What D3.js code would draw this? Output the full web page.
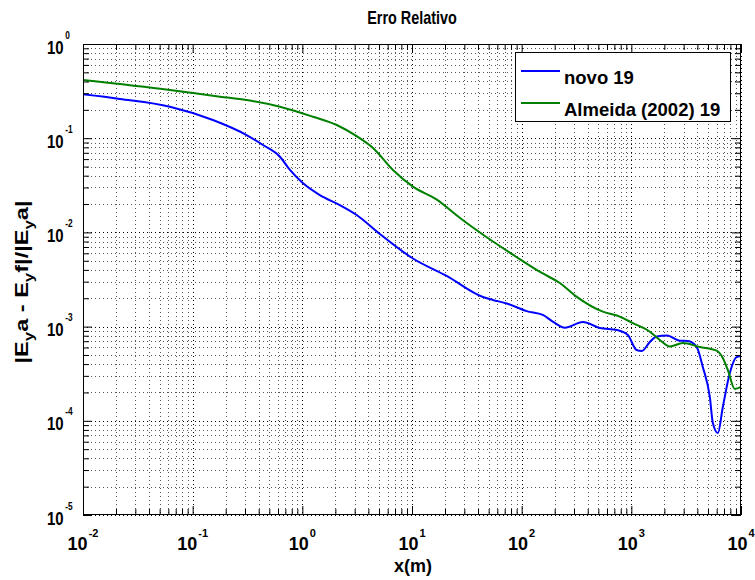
<!DOCTYPE html>
<html>
<head>
<meta charset="utf-8">
<script src="https://cdn.jsdelivr.net/npm/d3@7"></script>
<style>
  body { margin: 0; background: #fff; }
  text { font-family: "Liberation Sans", Arial, Helvetica, sans-serif; font-weight: bold; fill: #000; }
</style>
</head>
<body>
<svg id="chart" width="755" height="580"></svg>
<script>
// Relative error of the two formulations against distance x (m)
const novoX = [0.01, 0.0217, 0.062, 0.153, 0.31, 0.438, 0.625, 0.771, 1.01, 1.445,
  2.2, 3.13, 5.09, 10.2, 20.7, 44.3, 54.6, 73.3, 111, 156,
  192, 248, 361, 516, 738, 929, 1115, 1246, 1475, 1707,
  2107, 2768, 3273, 3928, 4484, 5197, 5537, 6151, 6826, 7907,
  9100, 10000];
const novoY = [0.292, 0.261, 0.216, 0.156, 0.108, 0.0847, 0.0636, 0.046, 0.0334, 0.0249,
  0.0195, 0.0153, 0.00962, 0.00528, 0.00345, 0.00206, 0.00192, 0.00176, 0.00146, 0.00133,
  0.00113, 0.000973, 0.00112, 0.000967, 0.00092, 0.000814, 0.000565, 0.000551, 0.000687, 0.000785,
  0.000805, 0.000708, 0.000703, 0.000612, 0.000373, 0.000179, 0.0000948, 0.0000742, 0.00014, 0.000322,
  0.000475, 0.000488];

const almeidaX = [0.01, 0.062, 0.177, 0.31, 0.625, 1.25, 2.06, 3.13, 4.41, 6.7,
  10.2, 16.7, 27.4, 46.2, 86.8, 147, 223, 316, 550, 738,
  1033, 1475, 1820, 2245, 2951, 4210, 5986, 6826, 7586, 8770,
  10000];
const almeidaY = [0.415, 0.325, 0.276, 0.254, 0.216, 0.169, 0.138, 0.105, 0.0787, 0.046,
  0.0306, 0.0224, 0.0142, 0.00916, 0.00562, 0.0038, 0.0029, 0.00208, 0.00144, 0.00131,
  0.00109, 0.000883, 0.000721, 0.000615, 0.00067, 0.000607, 0.000555, 0.000464, 0.000346, 0.000218,
  0.000229];

const seriesNames = ["novo 19", "Almeida (2002) 19"];
const seriesColors = ["#0000ff", "#008000"];

const xExponents = [-2, -1, 0, 1, 2, 3, 4];
const yExponents = [0, -1, -2, -3, -4, -5];

const titleText = "Erro Relativo";
const xLabelText = "x(m)";

const svg = d3.select("#chart");
const L = 83, R = 741, T = 44, B = 515;

const x = d3.scaleLog().domain([1e-2, 1e4]).range([L, R]);
const y = d3.scaleLog().domain([1e-5, 1]).range([B, T]);

// major and minor tick positions on each log axis
const xMajor = xExponents.map(e => Math.pow(10, e));
const yMajor = yExponents.map(e => Math.pow(10, e));
const minorOf = (majors) => {
  const out = [];
  const sorted = majors.slice().sort((a, b) => a - b);
  for (let i = 0; i < sorted.length - 1; i++)
    for (let k = 2; k <= 9; k++) out.push(sorted[i] * k);
  return out;
};
const xMinor = minorOf(xMajor);
const yMinor = minorOf(yMajor);

// background
svg.append("rect").attr("x", L).attr("y", T).attr("width", R - L).attr("height", B - T).attr("fill", "#fff");

// dotted grid
const grid = svg.append("g");
grid.selectAll(".gxm").data(xMinor).enter().append("line")
  .attr("x1", d => Math.round(x(d)) + 0.5).attr("x2", d => Math.round(x(d)) + 0.5)
  .attr("y1", T).attr("y2", B)
  .attr("stroke", "#555").attr("stroke-dasharray", "1,3");
grid.selectAll(".gym").data(yMinor).enter().append("line")
  .attr("y1", d => Math.round(y(d)) + 0.5).attr("y2", d => Math.round(y(d)) + 0.5)
  .attr("x1", L).attr("x2", R)
  .attr("stroke", "#555").attr("stroke-dasharray", "1,3");
grid.selectAll(".gxM").data(xMajor).enter().append("line")
  .attr("x1", d => Math.round(x(d)) + 0.5).attr("x2", d => Math.round(x(d)) + 0.5)
  .attr("y1", T).attr("y2", B)
  .attr("stroke", "#000").attr("stroke-dasharray", "1,3");
grid.selectAll(".gyM").data(yMajor).enter().append("line")
  .attr("y1", d => Math.round(y(d)) + 0.5).attr("y2", d => Math.round(y(d)) + 0.5)
  .attr("x1", L).attr("x2", R)
  .attr("stroke", "#000").attr("stroke-dasharray", "1,3");

// curves
const line = d3.line().x(d => x(d[0])).y(d => y(d[1])).curve(d3.curveMonotoneX);
const novo = novoX.map((v, i) => [v, novoY[i]]);
const almeida = almeidaX.map((v, i) => [v, almeidaY[i]]);
[novo, almeida].forEach((data, i) => {
  svg.append("path").datum(data)
    .attr("d", line)
    .attr("fill", "none")
    .attr("stroke", seriesColors[i])
    .attr("stroke-width", 2)
    .attr("stroke-linejoin", "round");
});

// inward ticks on all four sides
function ticks(axisFn, scale, values, size, transform) {
  const g = svg.append("g").attr("transform", transform)
    .call(axisFn(scale).tickValues(values).tickSize(-size).tickSizeOuter(0).tickFormat(""));
  g.select(".domain").remove();
  g.selectAll(".tick line").attr("stroke", "#000");
}
ticks(d3.axisBottom, x, xMajor, 9, `translate(0,${B})`);
ticks(d3.axisBottom, x, xMinor, 6, `translate(0,${B})`);
ticks(d3.axisTop, x, xMajor, 9, `translate(0,${T})`);
ticks(d3.axisTop, x, xMinor, 6, `translate(0,${T})`);
ticks(d3.axisLeft, y, yMajor, 9, `translate(${L},0)`);
ticks(d3.axisLeft, y, yMinor, 6, `translate(${L},0)`);
ticks(d3.axisRight, y, yMajor, 9, `translate(${R},0)`);
ticks(d3.axisRight, y, yMinor, 6, `translate(${R},0)`);

// frame
svg.append("rect").attr("x", L + 0.5).attr("y", T + 0.5)
  .attr("width", R - L - 1).attr("height", B - T - 1)
  .attr("fill", "none").attr("stroke", "#000").attr("stroke-width", 1);

// x tick labels: 10 with superscript exponent
xExponents.forEach(e => {
  const t = svg.append("text")
    .attr("x", x(Math.pow(10, e)))
    .attr("y", 550)
    .attr("text-anchor", "middle")
    .attr("font-size", 18);
  t.append("tspan").text("10");
  t.append("tspan").attr("font-size", 11).attr("dy", -13).attr("dx", 1).text(String(e));
});

// y tick labels (condensed lettering)
yExponents.forEach(e => {
  const t = svg.append("text")
    .attr("transform", `translate(47,${y(Math.pow(10, e)) + 9.5}) scale(0.83,1)`)
    .attr("text-anchor", "start")
    .attr("font-size", 18);
  t.append("tspan").text("10");
  t.append("tspan").attr("font-size", 10).attr("dy", -15).attr("dx", 2).text(String(e));
});

// title and axis labels
svg.append("text").attr("transform", "translate(412,24) scale(0.8,1)")
  .attr("text-anchor", "middle")
  .attr("font-size", 18).text(titleText);
svg.append("text").attr("x", 413).attr("y", 572).attr("text-anchor", "middle")
  .attr("font-size", 18).text(xLabelText);

// y label: |E_y a - E_y f|/|E_y a|
const yl = svg.append("text")
  .attr("transform", "translate(28,282) rotate(-90)")
  .attr("text-anchor", "middle")
  .attr("font-size", 18)
  .attr("textLength", 163)
  .attr("lengthAdjust", "spacingAndGlyphs");
const parts = [["|E", 0], ["y", 1], ["a - E", 0], ["y", 1], ["f|/|E", 0], ["y", 1], ["a|", 0]];
let shifted = false;
parts.forEach(([s, sub]) => {
  const ts = yl.append("tspan").text(s);
  if (sub) { ts.attr("font-size", 13).attr("dy", 5); shifted = true; }
  else if (shifted) { ts.attr("dy", -5); shifted = false; }
});

// legend
const lg = svg.append("g");
lg.append("rect").attr("x", 515.5).attr("y", 52.5).attr("width", 215).attr("height", 69)
  .attr("fill", "#fff").attr("stroke", "#000");
seriesNames.forEach((name, i) => {
  const ly = 71 + i * 32;
  lg.append("line").attr("x1", 521).attr("x2", 560).attr("y1", ly).attr("y2", ly)
    .attr("stroke", seriesColors[i]).attr("stroke-width", 2);
  lg.append("text").attr("x", 564).attr("y", ly + 12.5).attr("font-size", 18.5).text(name);
});
</script>
</body>
</html>
